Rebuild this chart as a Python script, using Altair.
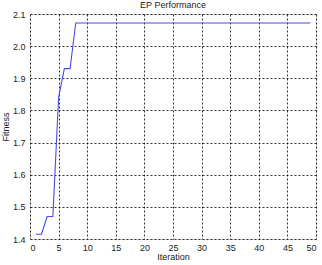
import altair as alt
import pandas as pd

iteration = list(range(1, 50))
fitness = [1.415, 1.415, 1.47, 1.47, 1.84, 1.93, 1.93] + [2.072] * 42

x_ticks = [0, 5, 10, 15, 20, 25, 30, 35, 40, 45, 50]
y_ticks = [1.4, 1.5, 1.6, 1.7, 1.8, 1.9, 2.0, 2.1]

df = pd.DataFrame({"Iteration": iteration, "Fitness": fitness})

font = "Liberation Sans"

chart = alt.Chart(df).mark_line(color="#4a4ae8", strokeWidth=1.1, clip=True).encode(
    x=alt.X("Iteration:Q", scale=alt.Scale(domain=[0, 50], nice=False),
            axis=alt.Axis(values=x_ticks, title="Iteration", grid=True,
                          gridDash=[2, 2], gridColor="#000000", gridOpacity=0.8,
                          domain=False, ticks=False, labelPadding=4,
                          labelFontSize=9, labelFont=font, labelColor="#222",
                          titleFontSize=9, titleFont=font, titleFontWeight="normal",
                          titleColor="#222", titlePadding=0)),
    y=alt.Y("Fitness:Q", scale=alt.Scale(domain=[1.4, 2.1], nice=False, zero=False),
            axis=alt.Axis(values=y_ticks, title="Fitness", grid=True,
                          gridDash=[2, 2], gridColor="#000000", gridOpacity=0.8,
                          domain=False, ticks=False, labelPadding=5,
                          labelFontSize=9, labelFont=font, labelColor="#222",
                          titleFontSize=9, titleFont=font, titleFontWeight="normal",
                          titleColor="#222", titlePadding=2)),
).properties(
    width=286, height=225,
    title=alt.TitleParams("EP Performance", fontSize=9, font=font, fontWeight="normal",
                          color="#222", offset=4, anchor="middle", frame="group", dy=4),
    autosize=alt.AutoSizeParams(type="none"),
    padding={"left": 30, "top": 14, "right": 6, "bottom": 26},
).configure_view(stroke="#000000", strokeWidth=1).configure(background="#ffffff")

chart.save("out.html", embed_options={"renderer": "svg", "actions": False})
